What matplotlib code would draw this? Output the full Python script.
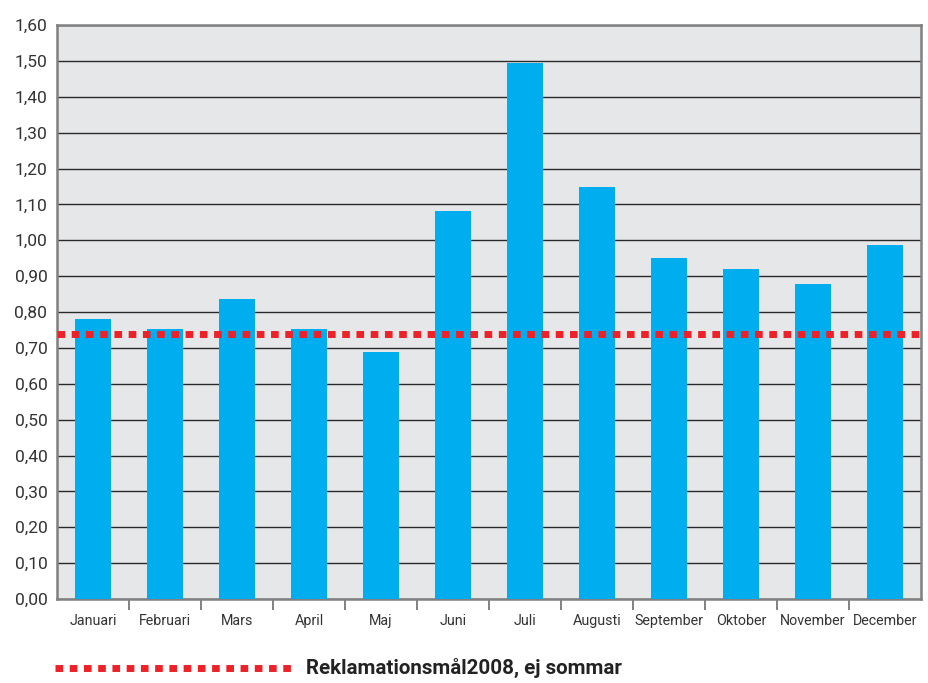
import matplotlib.pyplot as plt
from matplotlib.lines import Line2D
from matplotlib.ticker import FixedLocator, FuncFormatter
import numpy as np

months = ['Januari', 'Februari', 'Mars', 'April', 'Maj', 'Juni', 'Juli',
          'Augusti', 'September', 'Oktober', 'November', 'December']
values = [0.78, 0.753, 0.836, 0.753, 0.688, 1.081, 1.494, 1.148, 0.95, 0.92, 0.878, 0.987]
target = 0.739
target_label = 'Reklamationsmål2008, ej sommar'

plt.rcParams['font.family'] = ['Roboto', 'DejaVu Sans']

fig = plt.figure(figsize=(9.29, 6.83), dpi=100)
ax = fig.add_axes([57 / 929, 84 / 683, 864 / 929, 574 / 683])
ax.set_facecolor('#e6e7e9')

x = np.arange(len(months))
ax.bar(x, values, width=0.5, color='#00aeef', zorder=3)
ax.axhline(target, color='#ee2128', lw=5, dashes=(1.1, 0.95),
           dash_capstyle='butt', zorder=4)

ax.set_xlim(-0.5, len(months) - 0.5)
ax.set_ylim(0, 1.6)

yt = np.arange(0, 17) / 10
ax.set_yticks(yt)
ax.yaxis.set_major_formatter(FuncFormatter(lambda v, p: f'{v:.2f}'.replace('.', ',')))
ax.tick_params(axis='y', length=0, pad=7, labelsize=12.5, labelcolor='#333333')
ax.grid(axis='y', color='#2a2a2a', lw=1.0, zorder=1)

ax.set_xticks(x)
ax.set_xticklabels(months)
ax.tick_params(axis='x', which='major', length=0, pad=11, labelsize=10.3, labelcolor='#333333')
ax.xaxis.set_minor_locator(FixedLocator(x[:-1] + 0.5))
ax.tick_params(axis='x', which='minor', length=8, width=1.3, color='#777777')

for s in ax.spines.values():
    s.set_color('#808080')
    s.set_linewidth(1.8)

# legend under the chart
fig.add_artist(Line2D([55 / 929, 293 / 929], [1 - 668 / 683, 1 - 668 / 683],
                      color='#ee2128', lw=5, dashes=(1.1, 0.95), dash_capstyle='butt'))
fig.text(306 / 929, 1 - 668 / 683, target_label, fontsize=14.8, fontweight='bold',
         color='#222222', va='center', ha='left')

fig.savefig('out.png', dpi=100)
